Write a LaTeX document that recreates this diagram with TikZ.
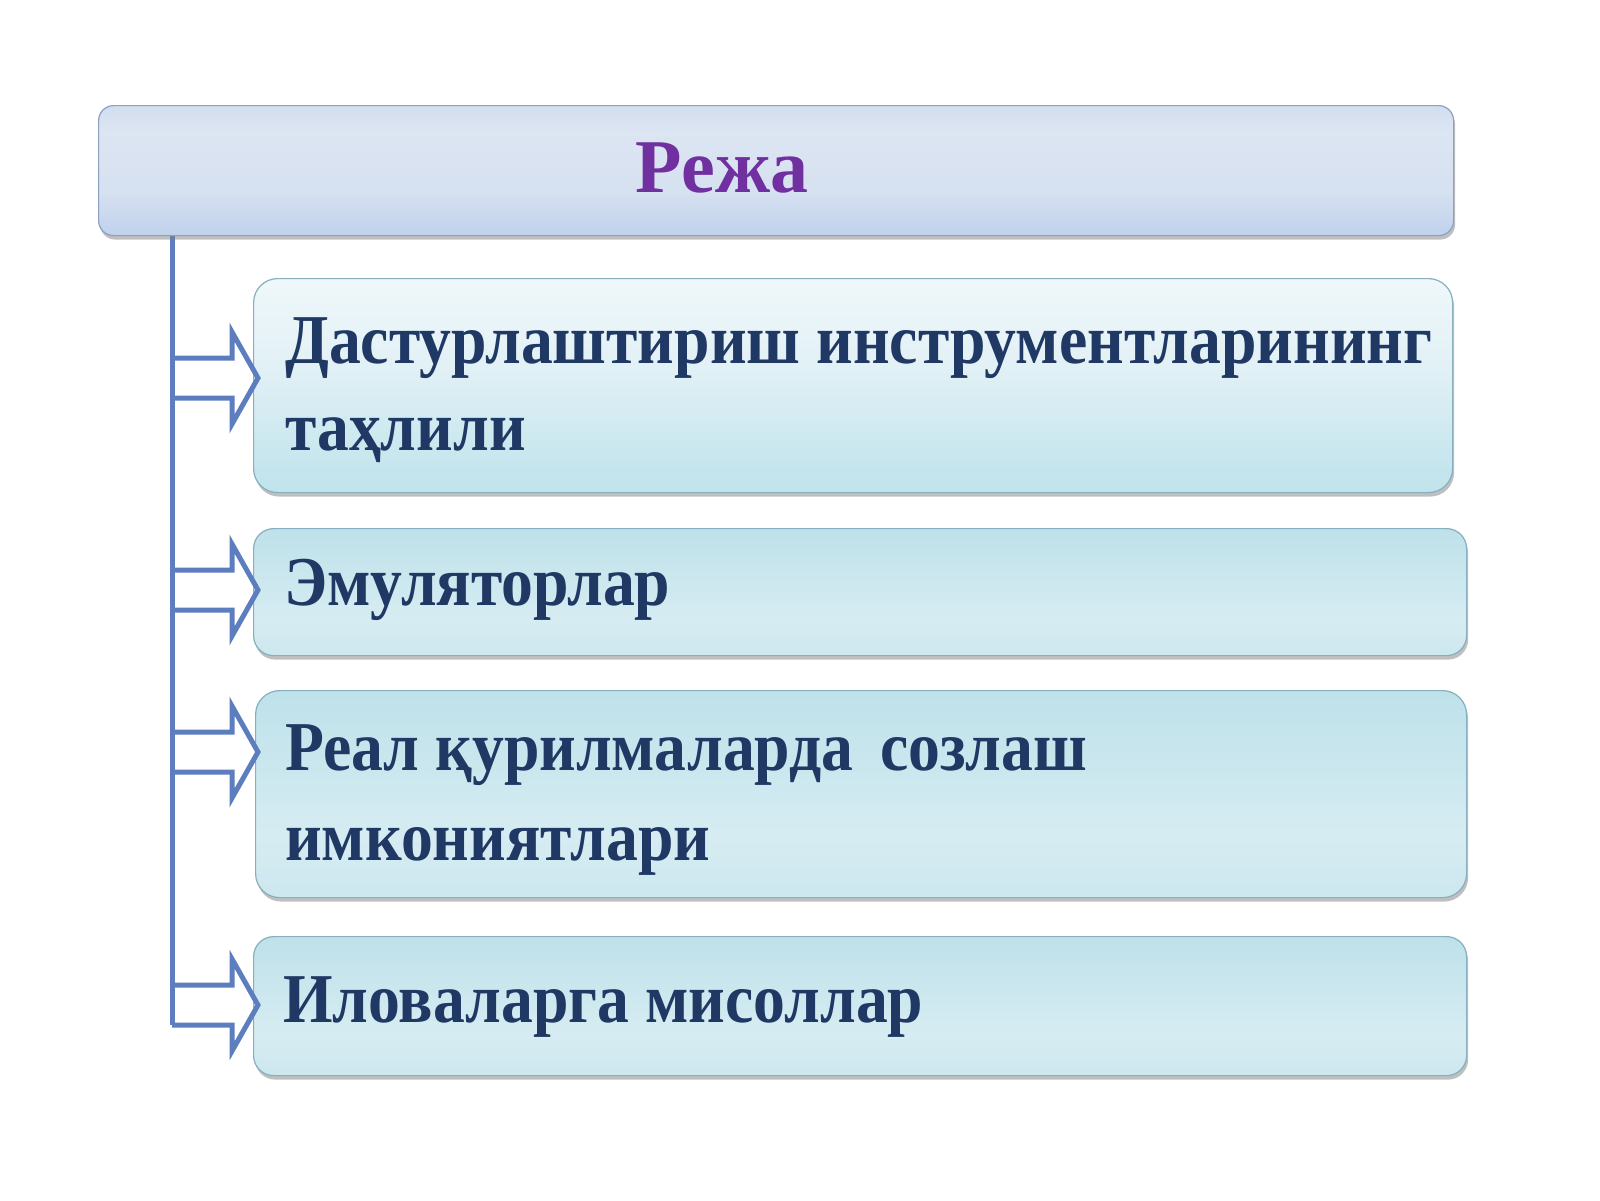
\documentclass[tikz,border=0pt]{standalone}
\usepackage{fontspec}
\setmainfont{Liberation Serif}
\newfontfamily\itemfont[FakeStretch=0.91]{Liberation Serif}
\usetikzlibrary{shadows}
\definecolor{txt}{RGB}{31,56,100}
\definecolor{ttl}{RGB}{112,48,160}
\definecolor{arr}{RGB}{92,126,190}
\definecolor{edgeA}{RGB}{140,160,195}
\definecolor{edgeB}{RGB}{135,175,192}
\pgfdeclareverticalshading{titleshade}{100bp}{%
  color(0bp)=(rgb,255:red,166;green,189;blue,228);
  color(18bp)=(rgb,255:red,184;green,203;blue,234);
  color(42bp)=(rgb,255:red,214;green,225;blue,241);
  color(65bp)=(rgb,255:red,220;green,229;blue,242);
  color(85bp)=(rgb,255:red,200;green,215;blue,237);
  color(100bp)=(rgb,255:red,178;green,198;blue,231)}
\pgfdeclareverticalshading{firstshade}{100bp}{%
  color(0bp)=(rgb,255:red,176;green,218;blue,229);
  color(30bp)=(rgb,255:red,196;green,229;blue,237);
  color(55bp)=(rgb,255:red,226;green,241;blue,246);
  color(100bp)=(rgb,255:red,255;green,255;blue,255)}
\pgfdeclareverticalshading{itemshade}{100bp}{%
  color(0bp)=(rgb,255:red,190;green,224;blue,233);
  color(40bp)=(rgb,255:red,214;green,236;blue,242);
  color(75bp)=(rgb,255:red,190;green,225;blue,234);
  color(100bp)=(rgb,255:red,158;green,210;blue,225)}
\begin{document}
\begin{tikzpicture}[x=1pt,y=-1pt,
  panel/.style={rounded corners=18pt, anchor=north west, inner sep=0pt, line width=1.2pt,
    drop shadow={shadow xshift=1.5pt, shadow yshift=-4pt, opacity=0.5, fill=black!50}},
  itemtext/.style={anchor=base west, text=txt, inner sep=0pt,
    font=\itemfont\bfseries\fontsize{70}{88}\selectfont},
  spine/.style={draw=arr, line width=5pt},
  pointer/.style={draw=arr, line width=5pt, line join=miter},
]
\useasboundingbox (0,0) rectangle (1600,1200);
% spine
\coordinate (spinetop) at (172,225);
\coordinate (a1) at (172,378);
\coordinate (a2) at (172,590);
\coordinate (a3) at (172,752);
\coordinate (a4) at (172,1005);
\draw[spine] (spinetop) -- ([yshift=-20pt]a4);
% title
\node[panel, draw=edgeA, shading=titleshade, rounded corners=15pt,
  minimum width=1355pt, minimum height=130pt] (title) at (98,105) {};
\node[anchor=base, text=ttl, inner sep=0pt, font=\bfseries\fontsize{76}{90}\selectfont]
  (titletext) at (722,192) {Режа};
% item panels
\node[panel, draw=edgeB, shading=firstshade, rounded corners=24pt,
  minimum width=1199pt, minimum height=214pt] (b1) at (253,278) {};
\node[panel, draw=edgeB, shading=itemshade, rounded corners=20pt,
  minimum width=1213pt, minimum height=127pt] (b2) at (253,528) {};
\node[panel, draw=edgeB, shading=itemshade, rounded corners=24pt,
  minimum width=1211pt, minimum height=207pt] (b3) at (255,690) {};
\node[panel, draw=edgeB, shading=itemshade, rounded corners=20pt,
  minimum width=1213pt, minimum height=139pt] (b4) at (253,936) {};
% texts
\node[itemtext] (t1a) at (285,363) {Дастурлаштириш инструментларининг};
\node[itemtext] (t1b) at (285,450) {таҳлили};
\node[itemtext] (t2) at (284,605) {Эмуляторлар};
\node[itemtext] (t3a) at (285,770) {Реал қурилмаларда\hspace{0.15em} созлаш};
\node[itemtext] (t3b) at (285,860) {имкониятлари};
\node[itemtext] (t4) at (283,1022) {Иловаларга мисоллар};
% pointers
\foreach \a in {a1,a2,a3,a4}{
  \draw[pointer] (\a) ++(0,-20) -- ++(60,0) -- ++(0,-26) -- ++(26,46)
    -- ++(-26,46) -- ++(0,-26) -- ++(-60,0);
}
\end{tikzpicture}
\end{document}
